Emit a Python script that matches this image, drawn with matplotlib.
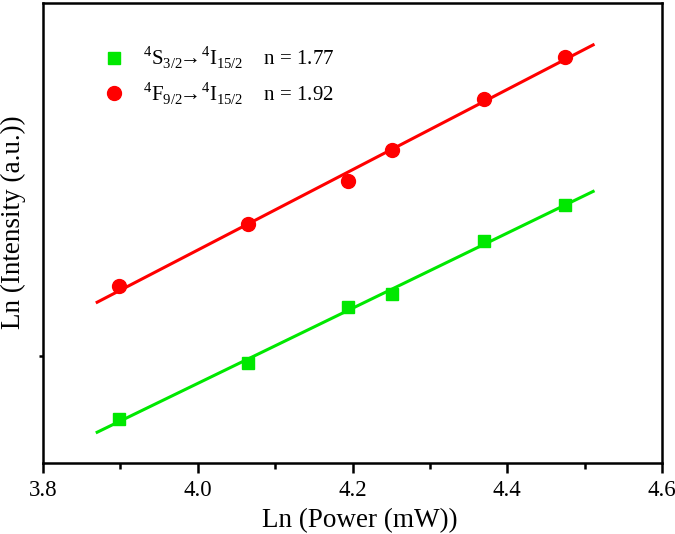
import numpy as np
import matplotlib
matplotlib.use('Agg')
import matplotlib.pyplot as plt
from matplotlib.ticker import MultipleLocator, FixedLocator, NullFormatter

plt.rcParams['font.family'] = ['Liberation Serif', 'DejaVu Serif']
plt.rcParams['mathtext.fontset'] = 'custom'
plt.rcParams['mathtext.rm'] = 'Liberation Serif'

# ln(power) para cada medida
ln_power = [3.898, 4.065, 4.194, 4.251, 4.370, 4.474]
# ln(intensidad), unidades arbitrarias
ln_int_verde = [9.697, 9.966, 10.235, 10.298, 10.553, 10.726]
ln_int_rojo = [10.336, 10.634, 10.841, 10.990, 11.240, 11.442]

etiqueta_verde = r'$^4$S$_{3/2}$$\!\!\rightarrow\!$$^4$I$_{15/2}$    n = 1.77'
etiqueta_rojo = r'$^4$F$_{9/2}$$\!\!\rightarrow\!$$^4$I$_{15/2}$    n = 1.92'

fig = plt.figure(figsize=(6.75, 5.34), dpi=100)
ax = fig.add_axes([43/675, 1-463/534, (662-43)/675, (463-3)/534])

x_fit = np.array([3.87, 4.511])
for y, color, marker, ms, lab in [(ln_int_verde, '#00e800', 's', 9, etiqueta_verde),
                                  (ln_int_rojo, '#ff0000', 'o', 10, etiqueta_rojo)]:
    p = np.polyfit(ln_power, y, 1)  # recta de ajuste
    ax.plot(x_fit, np.polyval(p, x_fit), color=color, lw=2.2, zorder=2)
    ax.plot(ln_power, y, linestyle='none', marker=marker, ms=ms, color=color,
            label=lab, zorder=3)

ax.set_xlim(3.8, 4.6)
ax.set_ylim(9.485, 11.70)
ax.xaxis.set_major_locator(MultipleLocator(0.2))
ax.xaxis.set_minor_locator(MultipleLocator(0.1))
ax.xaxis.set_major_formatter(matplotlib.ticker.FormatStrFormatter('%.1f'))
ax.yaxis.set_major_locator(FixedLocator([10.0]))
ax.yaxis.set_major_formatter(NullFormatter())

for s in ax.spines.values():
    s.set_linewidth(1.8)
ax.tick_params(axis='x', which='major', direction='out', length=7, width=1.8,
               labelsize=16.5, pad=5)
ax.tick_params(axis='x', which='minor', direction='out', length=4, width=1.8)
ax.tick_params(axis='y', which='major', direction='out', length=3, width=1.8)

ax.set_xlabel('Ln (Power (mW))', fontsize=19.5)
ax.xaxis.set_label_coords(0.512, -0.098)
fig.text(13/675, 1-222/534, 'Ln (Intensity (a.u.))', fontsize=19.5,
         rotation=90, ha='center', va='center')

ax.legend(loc='upper left', bbox_to_anchor=(0.064, 0.95), frameon=False,
          fontsize=15, handletextpad=0.8, labelspacing=0.45, handlelength=1.2)

plt.savefig('out.png', dpi=100)
